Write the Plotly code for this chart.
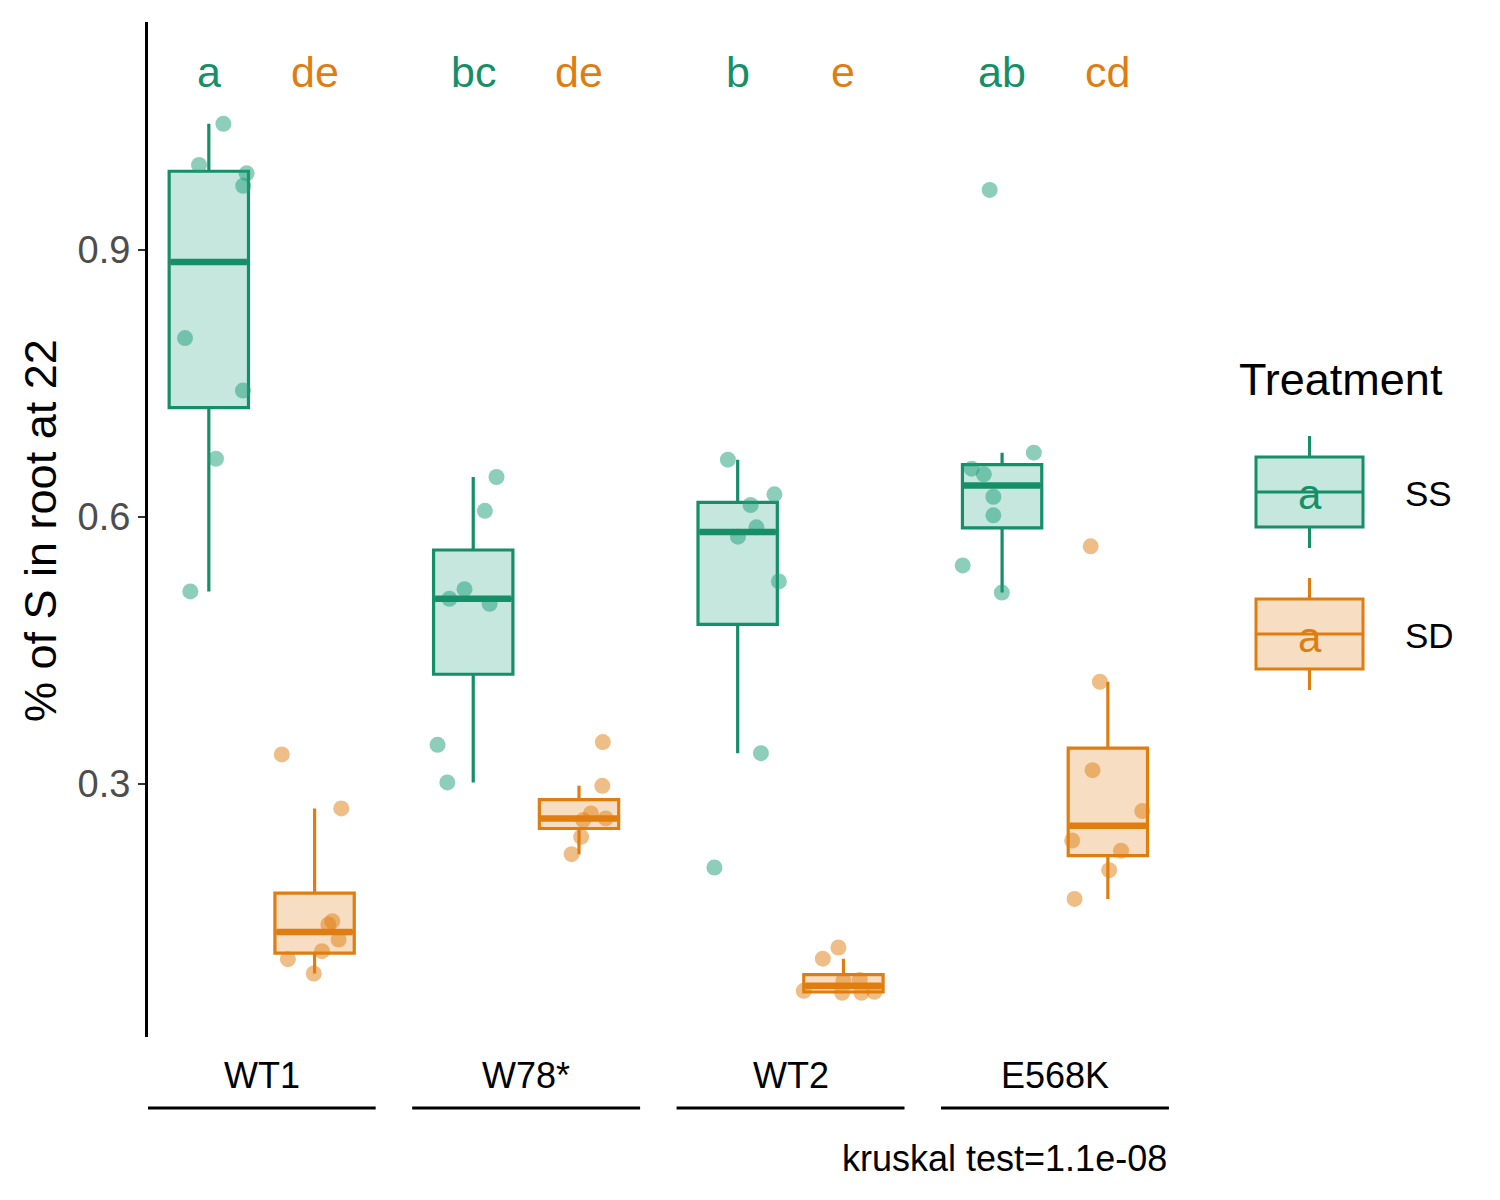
import numpy as np
import plotly.graph_objects as go

# ---------------- data ----------------
genotypes = ["WT1", "W78*", "WT2", "E568K"]
treatments = ["SS", "SD"]

ss_wt1 = [1.0416, 0.9955, 0.986, 0.972, 0.801, 0.742, 0.6655, 0.5165]
ss_w78 = [0.645, 0.607, 0.519, 0.5082, 0.5026, 0.3442, 0.3019]
ss_wt2 = [0.6644, 0.6255, 0.6135, 0.5884, 0.5779, 0.5277, 0.3348, 0.2064]
ss_e568k = [0.9674, 0.6723, 0.6543, 0.648, 0.6228, 0.6019, 0.5457, 0.5152]

sd_wt1 = [0.3334, 0.2727, 0.146, 0.1424, 0.1255, 0.1124, 0.1034, 0.0873]
sd_w78 = [0.3472, 0.2981, 0.267, 0.2615, 0.2596, 0.2408, 0.2213]
sd_wt2 = [0.1165, 0.104, 0.0679, 0.0657, 0.0657, 0.0668, 0.079, 0.080]
sd_e568k = [0.5671, 0.415, 0.3157, 0.2697, 0.2367, 0.2252, 0.2034, 0.1711]

# horizontal jitter (x-axis units)
ss_wt1_jit = [0.055, -0.037, 0.143, 0.130, -0.090, 0.129, 0.027, -0.070]
ss_w78_jit = [0.088, 0.044, -0.033, -0.090, 0.062, -0.135, -0.098]
ss_wt2_jit = [-0.037, 0.139, 0.049, 0.071, 0.001, 0.156, 0.088, -0.088]
ss_e568k_jit = [-0.047, 0.120, -0.115, -0.069, -0.033, -0.033, -0.149, -0.001]

sd_wt1_jit = [-0.124, 0.101, 0.067, 0.052, 0.091, 0.028, -0.101, -0.003]
sd_w78_jit = [0.090, 0.088, 0.045, 0.101, 0.016, 0.008, -0.028]
sd_wt2_jit = [-0.019, -0.078, -0.150, -0.005, 0.068, 0.117, 0.000, 0.062]
sd_e568k_jit = [-0.065, -0.030, -0.058, 0.130, -0.135, 0.050, 0.005, -0.126]

ss_letters = ["a", "bc", "b", "ab"]
sd_letters = ["de", "de", "e", "cd"]
kruskal_label = "kruskal test=1.1e-08"
y_title = "% of S in root at 22"
y_ticks = [0.3, 0.6, 0.9]
letter_y = 1.1

ss_groups = [ss_wt1, ss_w78, ss_wt2, ss_e568k]
sd_groups = [sd_wt1, sd_w78, sd_wt2, sd_e568k]
ss_jits = [ss_wt1_jit, ss_w78_jit, ss_wt2_jit, ss_e568k_jit]
sd_jits = [sd_wt1_jit, sd_w78_jit, sd_wt2_jit, sd_e568k_jit]

# ---------------- styling ----------------
GREEN = "#168F68"
ORANGE = "#E07D10"
FILL = {"SS": "rgba(27,158,119,0.25)", "SD": "rgba(224,125,16,0.25)"}
PTS = {"SS": "rgba(27,158,119,0.5)", "SD": "rgba(224,125,16,0.5)"}
COL = {"SS": GREEN, "SD": ORANGE}
FONT = "Liberation Sans, Arial, Helvetica, sans-serif"
DODGE = {"SS": -0.2, "SD": 0.2}
BOXW = 0.3

OFF = 8                      # page body margin
W, H = 1500 - 2 * OFF, 1200 - 2 * OFF
ML, MT = 148 - OFF, 22 - OFF
PW, PH = 1022, 1015
MR, MB = W - ML - PW, H - MT - PH


def paper(xs, ys):
    """screen pixel -> paper coords"""
    xf, yf = xs - OFF, ys - OFF
    return (xf - ML) / PW, (H - MB - yf) / PH


def box_stats(vals):
    v = np.sort(np.asarray(vals, dtype=float))
    q1, med, q3 = np.percentile(v, [25, 50, 75])
    iqr = q3 - q1
    lo = v[v >= q1 - 1.5 * iqr].min()
    hi = v[v <= q3 + 1.5 * iqr].max()
    return q1, med, q3, lo, hi


fig = go.Figure()
group_pos = np.arange(1, len(genotypes) + 1)

for trt, groups, jits in (("SS", ss_groups, ss_jits), ("SD", sd_groups, sd_jits)):
    centers = group_pos + DODGE[trt]
    px_, py_ = [], []
    for c, vals, jit in zip(centers, groups, jits):
        px_ += [c + j for j in jit]
        py_ += list(vals)
    fig.add_trace(go.Scatter(x=px_, y=py_, mode="markers",
                             marker=dict(size=16, color=PTS[trt], line=dict(width=0)),
                             showlegend=False, hoverinfo="skip"))
    stats = [box_stats(g) for g in groups]
    fig.add_trace(go.Box(
        x=list(centers),
        q1=[s[0] for s in stats], median=[s[1] for s in stats], q3=[s[2] for s in stats],
        lowerfence=[s[3] for s in stats], upperfence=[s[4] for s in stats],
        width=BOXW, whiskerwidth=0, boxpoints=False,
        fillcolor=FILL[trt], line=dict(color=COL[trt], width=3.2),
        showlegend=False, name=trt))
    mx, my = [], []
    for c, s in zip(centers, stats):
        mx += [c - BOXW / 2 + 0.006, c + BOXW / 2 - 0.006, None]
        my += [s[1], s[1], None]
    fig.add_trace(go.Scatter(x=mx, y=my, mode="lines",
                             line=dict(color=COL[trt], width=6.5),
                             showlegend=False, hoverinfo="skip"))

annotations = []
shapes = []

for trt, letters in (("SS", ss_letters), ("SD", sd_letters)):
    for c, lab in zip(group_pos + DODGE[trt], letters):
        annotations.append(dict(x=c, y=letter_y, xref="x", yref="y", text=lab,
                                showarrow=False, yanchor="middle",
                                font=dict(size=43, color=COL[trt], family=FONT)))

lab_y = paper(0, 1075)[1]
line_y = paper(0, 1108)[1]
for g, name in zip(group_pos, genotypes):
    annotations.append(dict(x=g, y=lab_y, xref="x", yref="paper", text=name, showarrow=False,
                            yanchor="middle", font=dict(size=36, color="black", family=FONT)))
    shapes.append(dict(type="line", xref="x", yref="paper", x0=g - 0.431, x1=g + 0.431,
                       y0=line_y, y1=line_y, line=dict(color="black", width=3)))

annotations.append(dict(x=paper(1169, 0)[0], y=paper(0, 1158)[1], xref="paper", yref="paper",
                        text=kruskal_label, showarrow=False, xanchor="right", yanchor="middle",
                        font=dict(size=36, color="black", family=FONT)))

annotations.append(dict(x=paper(40, 0)[0], y=paper(0, 531)[1], xref="paper", yref="paper",
                        text=y_title, showarrow=False, textangle=-90, xanchor="center",
                        yanchor="middle", font=dict(size=45, color="black", family=FONT)))

lx0, lx1 = 1256, 1363
lxm = (lx0 + lx1) / 2
annotations.append(dict(x=paper(1237, 0)[0], y=paper(0, 379)[1], xref="paper", yref="paper",
                        text="Treatment", showarrow=False, xanchor="left", yanchor="middle",
                        font=dict(size=45, color="black", family=FONT)))
for trt, ytop, ybot in (("SS", 457, 527), ("SD", 599, 669)):
    ymid = (ytop + ybot) / 2
    x0p, y0p = paper(lx0, ybot)
    x1p, y1p = paper(lx1, ytop)
    shapes.append(dict(type="rect", xref="paper", yref="paper", x0=x0p, x1=x1p, y0=y0p, y1=y1p,
                       fillcolor=FILL[trt], line=dict(color=COL[trt], width=3)))
    xm = paper(lxm, 0)[0]
    shapes.append(dict(type="line", xref="paper", yref="paper", x0=x0p, x1=x1p,
                       y0=paper(0, ymid)[1], y1=paper(0, ymid)[1],
                       line=dict(color=COL[trt], width=3)))
    shapes.append(dict(type="line", xref="paper", yref="paper", x0=xm, x1=xm,
                       y0=paper(0, ytop - 21)[1], y1=y1p, line=dict(color=COL[trt], width=3)))
    shapes.append(dict(type="line", xref="paper", yref="paper", x0=xm, x1=xm,
                       y0=y0p, y1=paper(0, ybot + 21)[1], line=dict(color=COL[trt], width=3)))
    annotations.append(dict(x=xm, y=paper(0, ymid + 3)[1], xref="paper", yref="paper", text="a",
                            showarrow=False, xanchor="center", yanchor="middle",
                            font=dict(size=42, color=COL[trt], family=FONT)))
    annotations.append(dict(x=paper(1403, 0)[0], y=paper(0, ymid + 1)[1], xref="paper", yref="paper",
                            text=trt, showarrow=False, xanchor="left", yanchor="middle",
                            font=dict(size=35, color="black", family=FONT)))

fig.update_layout(
    width=W, height=H,
    margin=dict(l=ML, r=MR, t=MT, b=MB),
    paper_bgcolor="white", plot_bgcolor="white",
    font=dict(family=FONT),
    showlegend=False,
    annotations=annotations,
    shapes=shapes,
    xaxis=dict(range=[0.57, 4.435], showgrid=False, zeroline=False, showline=False,
               showticklabels=False, ticks=""),
    yaxis=dict(range=[0.016, 1.156], showgrid=False, zeroline=False,
               showline=True, linecolor="black", linewidth=3,
               tickvals=y_ticks, ticktext=[f"{t:.1f}" for t in y_ticks],
               ticks="outside", ticklen=7, tickwidth=2, tickcolor="#333333",
               tickfont=dict(size=38, color="#4D4D4D", family=FONT)),
)

fig.write_html("out.html")
